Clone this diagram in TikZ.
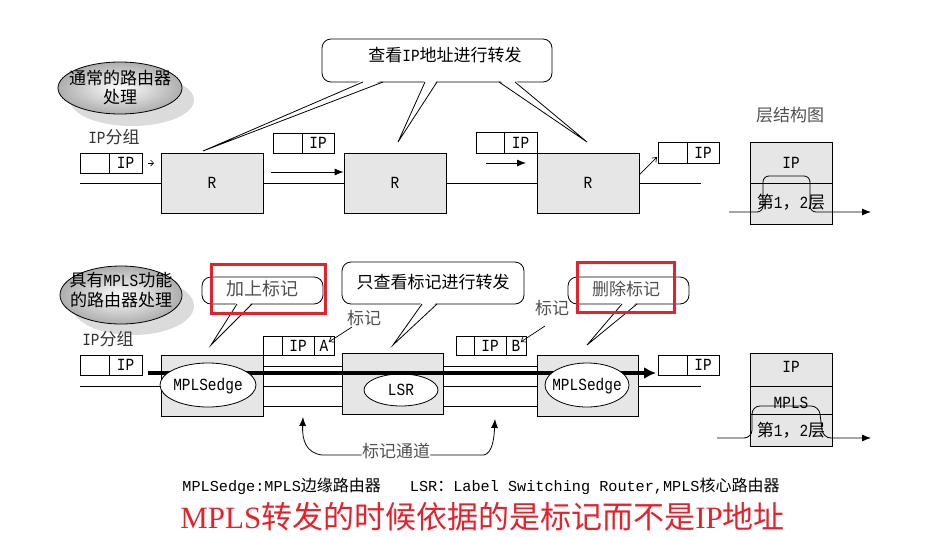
\documentclass[tikz,border=0pt]{standalone}
\usepackage{fontspec}
\setmainfont{Liberation Mono}[FakeStretch=0.85]
\newfontfamily\cjk{Noto Sans CJK SC}
\newfontfamily\monob{Liberation Mono}[Scale=0.95]
\newfontfamily\serifb{Liberation Serif}
\newcommand\C[1]{{\cjk #1}}
\usetikzlibrary{shapes.geometric,arrows.meta}
\definecolor{boxgray}{HTML}{E6E6E6}
\definecolor{mred}{HTML}{E8202A}
\definecolor{lbl}{HTML}{505050}
\newcommand\wedgeptr[4]{%
  \fill[white] (#1,#3-2) -- (#4) -- (#2,#3-2) -- cycle;
  \draw[line width=0.8pt] (#1,#3) -- (#4) -- (#2,#3);}
\begin{document}
\begin{tikzpicture}[x=1pt,y=-1pt,line width=0.8pt,
  ftext/.style={font=\fontsize{17}{19}\selectfont},
  txt/.style={inner sep=0pt,ftext},
  router/.style={draw,fill=boxgray,minimum width=102pt,minimum height=60pt,inner sep=0pt,ftext},
  pkt/.style={draw,fill=white},
  callbox/.style={draw,fill=white,rounded corners=9pt,inner sep=0pt},
  oval/.style={ellipse,draw,fill=white,inner sep=0pt},
  bubble/.style={ellipse,draw,inner sep=0pt,inner color=white,outer color=black!32},
  shadowov/.style={ellipse,fill=black!14,inner sep=0pt},
  arrowhd/.style={-{Latex[length=9pt,width=7pt]}},
  thinarr/.style={-{Straight Barb[length=4pt,width=6pt]},line width=0.7pt},
  redbox/.style={draw=mred,line width=3pt},
  graytxt/.style={txt,text=lbl}
]
\useasboundingbox (0,0) rectangle (940,536);

% ================= TOP ROW =================
% bubble
\node[shadowov,minimum width=124pt,minimum height=52pt] (sh1) at (132,100) {};
\node[bubble,minimum width=124pt,minimum height=52pt] (b1) at (120,88) {};
\node[txt,align=center] (b1t) at (120,87.5) {\C{通常的路由器}\\\C{处理}};

\node[txt,text=black!80] (ipg1) at (114,137) {IP\C{分组}};

% baseline
\draw (80,183) -- (701,183);

% routers
\node[router] (r1) at (212,183) {R};
\node[router] (r2) at (395,183) {R};
\node[router] (r3) at (588,183) {R};

% packets
\draw[pkt] (80,153) rectangle (142,173); \draw (109,153) -- (109,173);
\node[txt] (p1) at (125.5,163) {IP};
\draw[pkt] (273,133) rectangle (334,153); \draw (302,133) -- (302,153);
\node[txt] (p2) at (318,143) {IP};
\draw[pkt] (476,132) rectangle (537,153); \draw (504,132) -- (504,153);
\node[txt] (p3) at (520.5,142.5) {IP};
\draw[pkt] (658,142) rectangle (719,163); \draw (687,142) -- (687,163);
\node[txt] (p4) at (703,152.5) {IP};

% arrows
\coordinate (s0) at (148,163);
\draw[-{Straight Barb[length=3pt,width=6pt]},line width=0.6pt] (s0) -- (154,163);
\coordinate (s1) at (271,172);
\draw[arrowhd] (s1) -- (r2.west |- s1);
\coordinate (s2) at (486,163);
\coordinate (s2e) at (526,163);
\draw[arrowhd] (s2) -- (s2e);
\coordinate (s3) at (639,175);
\coordinate (s3e) at (657,157);
\draw[thinarr] (s3) -- (s3e);

% top callout
\node[callbox,minimum width=230pt,minimum height=43pt] (c1) at (437,60.5) {};
\node[txt] (c1t) at (445,55) {\C{查看}IP\C{地址进行转发}};
\coordinate (t1) at (203,151);
\coordinate (t2) at (398,142);
\coordinate (t3) at (587,142);
\wedgeptr{363}{383}{82}{t1}
\wedgeptr{425}{437}{82}{t2}
\wedgeptr{499}{515}{82}{t3}

% layer structure
\node[graytxt] (lt) at (790,115) {\C{层结构图}};
\draw[fill=boxgray] (750,142) rectangle (832,224);
\draw (750,183) -- (832,183);
\node[txt] (l1a) at (791,162.5) {IP};
\node[txt] (l1b) at (791,202) {\C{第}1\C{，}2\C{层}};
\coordinate (lp0) at (729,212);
\coordinate (lp1) at (871,212);
\draw[arrowhd,rounded corners=6pt] (lp0) -- (763,212) -- (763,176) -- (810,176) -- (810,212) -- (lp1);

% ================= BOTTOM ROW =================
\node[shadowov,minimum width=122pt,minimum height=58pt] (sh2) at (133,306) {};
\node[bubble,minimum width=122pt,minimum height=58pt] (b2) at (121,295) {};
\node[txt,align=center] (b2t) at (121,290) {\C{具有}MPLS\C{功能}\\[1pt]\C{的路由器处理}};

\node[txt,text=black!80] (ipg2) at (108,339) {IP\C{分组}};

% thin lines
\draw (80,386) -- (161,386);
\draw (263,366) -- (345,366);
\draw (263,386) -- (345,386);
\draw (263,406) -- (345,406);
\draw (443,366) -- (540,366);
\draw (443,386) -- (540,386);
\draw (443,406) -- (540,406);
\draw (638,386) -- (701,386);

% boxes
\node[router,minimum height=61pt] (e1) at (212,385.5) {};
\node[router,minimum width=101pt,minimum height=61pt] (lsr) at (392.5,383.5) {};
\node[router,minimum width=101pt,minimum height=61pt] (e2) at (587.5,385.5) {};

% packets
\draw[pkt] (80,355) rectangle (142,375); \draw (109,355) -- (109,375);
\node[txt] (p5) at (125.5,365) {IP};
\draw[pkt] (263,336) rectangle (334,355); \draw (282,336) -- (282,355); \draw (314,336) -- (314,355);
\node[txt] (pa1) at (298,345.5) {IP};
\node[txt] (pa2) at (324,345.5) {A};
\draw[pkt] (456,336) rectangle (526,355); \draw (474,336) -- (474,355); \draw (506,336) -- (506,355);
\node[txt] (pb1) at (490,345.5) {IP};
\node[txt] (pb2) at (516,345.5) {B};
\draw[pkt] (658,355) rectangle (719,375); \draw (687,355) -- (687,375);
\node[txt] (p6) at (703,365) {IP};

% LSR oval (under thick line)
\node[oval,minimum width=74pt,minimum height=32pt] (o2) at (401,390) {};
\node[txt] (o2t) at (401,390) {LSR};

% thick arrow
\coordinate (ts) at (148,373);
\coordinate (te) at (656,373);
\draw[line width=3.5pt,-{Latex[length=12pt,width=12pt]}] (ts) -- (te);

% edge ovals
\node[oval,minimum width=96pt,minimum height=44pt] (o1) at (208,385) {};
\node[txt] (o1t) at (208,386) {MPLSedge};
\node[oval,minimum width=84pt,minimum height=44pt] (o3) at (587,385) {};
\node[txt] (o3t) at (587,386) {MPLSedge};

% callouts
\node[callbox,minimum width=121pt,minimum height=27pt] (c2) at (262.5,290.5) {};
\node[graytxt,font=\fontsize{18}{20}\selectfont] (c2t) at (262,289) {\C{加上标记}};
\coordinate (t4) at (211,345);
\wedgeptr{237}{252}{304}{t4}

\node[callbox,minimum width=182pt,minimum height=42pt] (c3) at (433,283) {};
\node[txt] (c3t) at (433,282) {\C{只查看标记进行转发}};
\coordinate (t5) at (393,345);
\wedgeptr{422}{437}{304}{t5}

\node[callbox,minimum width=121pt,minimum height=27pt] (c4) at (628.5,290.5) {};
\node[graytxt] (c4t) at (626,289) {\C{删除标记}};
\coordinate (t6) at (587,345);
\wedgeptr{622}{637}{304}{t6}

% red boxes
\draw[redbox] (211,264) rectangle (325,313);
\draw[redbox] (577,262) rectangle (674,312);

% label arrows
\node[graytxt] (m1) at (364,318) {\C{标记}};
\coordinate (m1s) at (352,327);
\draw[thinarr] (m1s) -- (pa2.east |- 0,342);
\node[graytxt] (m2) at (552,308) {\C{标记}};
\coordinate (m2s) at (545,326);
\draw[thinarr] (m2s) -- (pb2.east |- 0,342);

% label channel
\node[graytxt] (ch) at (396,451) {\C{标记通道}};
\coordinate (chl) at (303,417);
\coordinate (chr) at (495,419);
\draw[arrowhd] (ch.west |- 0,455) -- (322,455) .. controls (306,453) and (302,440) .. (chl);
\draw[arrowhd] (ch.east |- 0,455) -- (484,455) .. controls (492,453) and (494,440) .. (chr);

% bottom layer structure
\draw[fill=boxgray] (750,353) rectangle (832,446);
\draw (750,386) -- (832,386);
\draw (750,414) -- (832,414);
\node[txt] (l2a) at (791,367) {IP};
\node[txt] (l2b) at (791,403) {MPLS};
\node[txt] (l2c) at (791,430) {\C{第}1\C{，}2\C{层}};
\coordinate (lq0) at (717,438);
\coordinate (lq1) at (871,438);
\draw[arrowhd,rounded corners=8pt] (lq0) -- (752,438) -- (752,406) -- (819,406) -- (823,438) -- (lq1);

% captions
\node[inner sep=0pt,anchor=west,font=\fontsize{16}{18}\selectfont] (cap1) at (182,486)
  {\monob MPLSedge:MPLS\C{边缘路由器}\hspace{29pt}LSR\C{：}Label Switching Router,MPLS\C{核心路由器}};
\node[inner sep=0pt,anchor=west,text=mred,font=\fontsize{31}{33}\selectfont] (cap2) at (180,517)
  {\serifb MPLS\C{转发的时候依据的是标记而不是}IP\C{地址}};
\end{tikzpicture}
\end{document}
